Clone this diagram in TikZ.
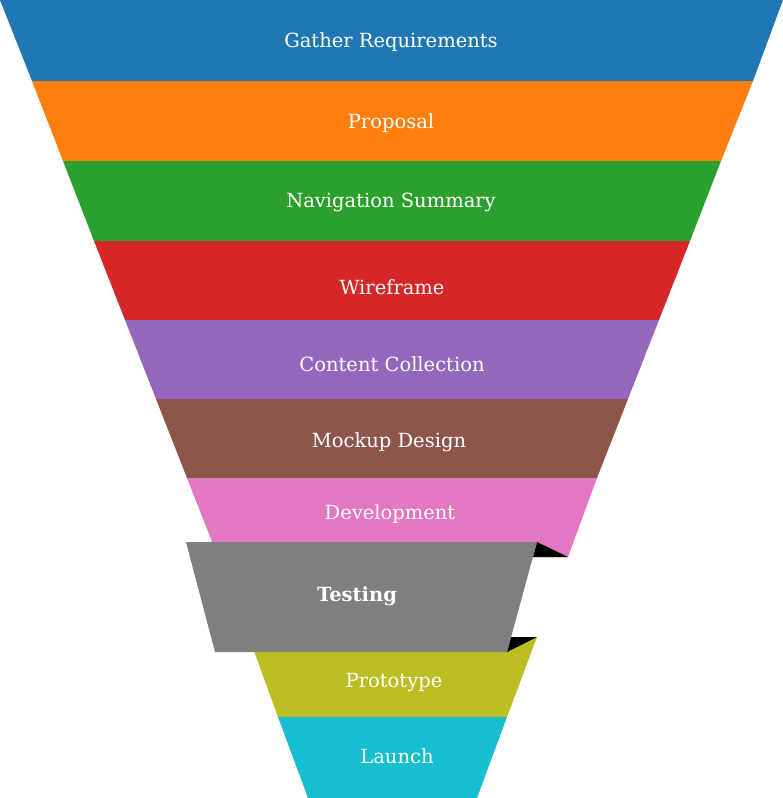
\documentclass[tikz,border=0pt]{standalone}
\usepackage{fontspec}
\setmainfont{DejaVu Serif}
\usetikzlibrary{positioning}

\definecolor{tabblue}{HTML}{1F77B4}
\definecolor{taborange}{HTML}{FF7F0E}
\definecolor{tabgreen}{HTML}{2CA02C}
\definecolor{tabred}{HTML}{D62728}
\definecolor{tabpurple}{HTML}{9467BD}
\definecolor{tabbrown}{HTML}{8C564B}
\definecolor{tabpink}{HTML}{E377C2}
\definecolor{tabgray}{HTML}{7F7F7F}
\definecolor{tabolive}{HTML}{BCBD22}
\definecolor{tabcyan}{HTML}{17BECF}

\begin{document}
\begin{tikzpicture}[
  x=1pt, y=-1pt,
  stage/.style={text=white, font=\fontsize{19.5}{22}\selectfont, inner sep=0pt},
  fold/.style={fill=black}
]
\useasboundingbox (0,0) rectangle (783,798);

% funnel bands
\fill[tabblue]   (0,0) -- (783,0) -- (753,81) -- (32,81) -- cycle;
\fill[taborange] (32,81) -- (753,81) -- (721,161) -- (63,161) -- cycle;
\fill[tabgreen]  (63,161) -- (721,161) -- (690,241) -- (94,241) -- cycle;
\fill[tabred]    (94,241) -- (690,241) -- (659,320) -- (125,320) -- cycle;
\fill[tabpurple] (125,320) -- (659,320) -- (628,399) -- (156,399) -- cycle;
\fill[tabbrown]  (156,399) -- (628,399) -- (597,478) -- (187,478) -- cycle;
\fill[tabpink]   (187,478) -- (597,478) -- (568,557) -- (218,557) -- cycle;
\fill[tabolive]  (249,637) -- (537,637) -- (507,717) -- (278,717) -- cycle;
\fill[tabcyan]   (278,717) -- (507,717) -- (477,798) -- (308,798) -- cycle;

% pulled-out stage with its folds
\fill[fold] (537,542) -- (568,557) -- (533,557) -- cycle;
\fill[fold] (511,637) -- (537,637) -- (507,652) -- cycle;
\fill[tabgray] (186,542) -- (537,542) -- (507,652) -- (215,652) -- cycle;

% labels
\node[stage] (gather) at (391,42) {Gather Requirements};
\node[stage] (proposal) at (391,123) {Proposal};
\node[stage] (nav) at (391,202) {Navigation Summary};
\node[stage] (wire) at (392,287) {Wireframe};
\node[stage] (content) at (392,364) {Content Collection};
\node[stage] (mockup) at (389,442) {Mockup Design};
\node[stage] (dev) at (390,514) {Development};
\node[stage, font=\fontsize{19.5}{22}\selectfont\bfseries] (testing) at (357,596) {Testing};
\node[stage] (proto) at (394,683) {Prototype};
\node[stage] (launch) at (397,756) {Launch};

\end{tikzpicture}
\end{document}
